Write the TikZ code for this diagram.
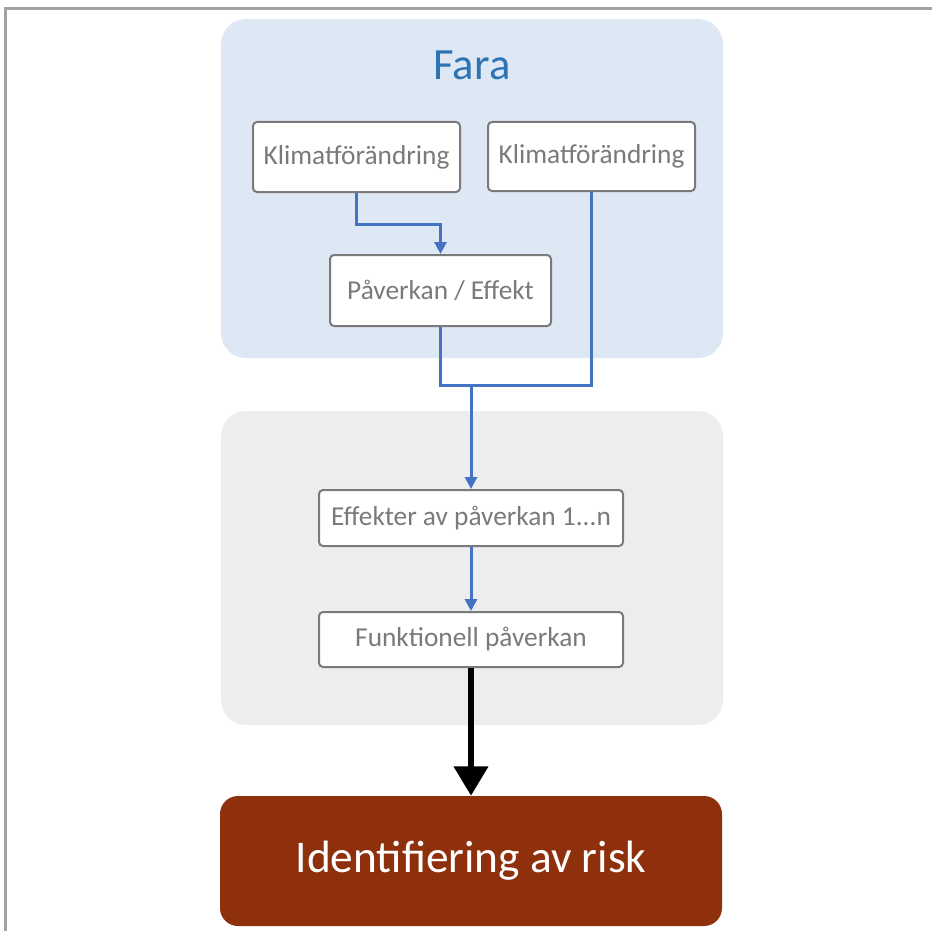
\documentclass[tikz,border=0pt]{standalone}
\usepackage{fontspec}
\setmainfont{Carlito}
\usetikzlibrary{arrows.meta}
\definecolor{faraljus}{HTML}{DEE8F4}
\definecolor{farablå}{HTML}{2E74B5}
\definecolor{ljusgrå}{HTML}{EDEDED}
\definecolor{kant}{HTML}{7A7A7A}
\definecolor{linjeblå}{HTML}{4472C4}
\definecolor{riskröd}{HTML}{8E300B}
\definecolor{ram}{HTML}{A2A2A6}
\tikzset{
  ruta/.style={draw=kant,line width=1.5pt,fill=white,rounded corners=3pt,
    text=kant,font=\fontsize{20.5}{24}\selectfont,inner sep=0pt},
  linje/.style={draw=linjeblå,line width=2.25pt},
  pil/.style={linje,-{Triangle[width=9pt,length=9pt]}}
}

\begin{document}
\begin{tikzpicture}[x=0.75pt,y=-0.75pt]
			\useasboundingbox (0,0) rectangle (932,931);
			\draw[ram,line width=2.25pt] (5,931) -- (5,9) -- (932,9);
			\fill[faraljus,rounded corners=18.75pt] (221,19) rectangle (723,358);
			\fill[ljusgrå,rounded corners=18.75pt] (221,411) rectangle (723,725);
			\node[text=farablå,font=\fontsize{33.5}{38}\selectfont] (fara) at (472,65) {Fara};
			\node[ruta,minimum width=155.25pt,minimum height=52.5pt] (k1) at (356.5,157) {\raisebox{-1pt}{Klimatförändring}};
			\node[ruta,minimum width=155.25pt,minimum height=51.75pt] (k2) at (591.5,156.5) {\raisebox{-1pt}{Klimatförändring}};
			\node[ruta,minimum width=165.75pt,minimum height=53.25pt] (pe) at (440.5,290.5) {Påverkan / Effekt};
			\node[ruta,minimum width=228pt,minimum height=42pt] (eff) at (471,518) {Effekter av påverkan 1...n};
			\node[ruta,minimum width=228pt,minimum height=41.25pt] (fun) at (471,639.5) {Funktionell påverkan};
			\node[fill=riskröd,rounded corners=13.5pt,minimum width=376.5pt,minimum height=97.5pt,
				text=white,font=\fontsize{34}{40}\selectfont] (risk) at (471,861) {Identifiering av risk};
			\coordinate (knut) at (471,385);
			\draw[pil] (k1.south) -- ++(0,31) -| (pe.north);
			\draw[linje] (pe.south) |- (knut) -| (k2.south);
			\draw[pil] (knut) -- (eff.north);
			\draw[pil] (eff.south) -- (fun.north);
			\draw[line width=4.5pt,-{Triangle[width=25pt,length=22pt]}] (fun.south) -- (risk.north);
		\end{tikzpicture}
\end{document}
